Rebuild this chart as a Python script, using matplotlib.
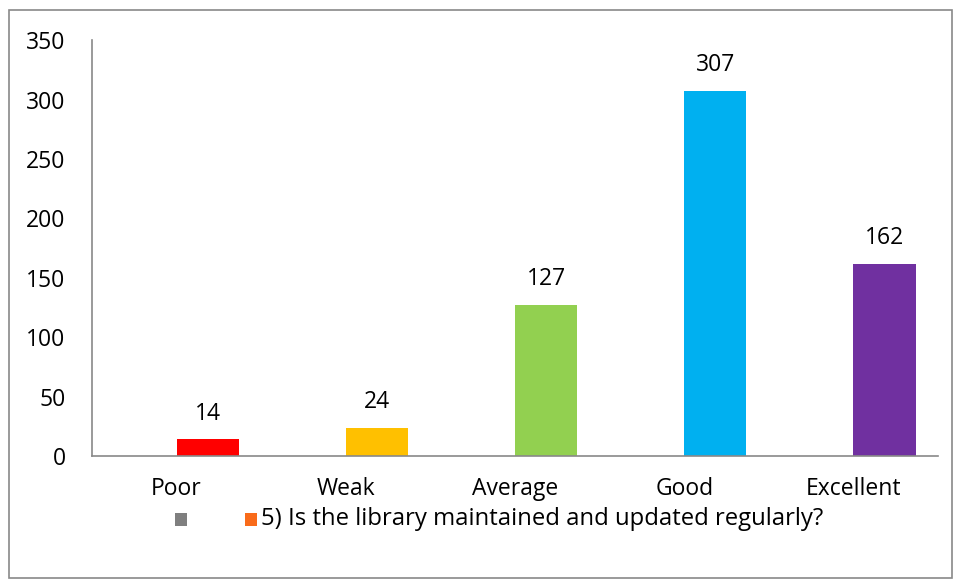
import matplotlib.pyplot as plt
from matplotlib.patches import Rectangle

plt.rcParams['font.family'] = ['Open Sans', 'DejaVu Sans']

categories = ["Poor", "Weak", "Average", "Good", "Excellent"]
counts = [14, 24, 127, 307, 162]
colors = ["#FF0000", "#FFC000", "#92D050", "#00B0F0", "#7030A0"]
legend_label = "5) Is the library maintained and updated regularly?"

fig = plt.figure(figsize=(9.56, 5.81), dpi=100)
ax = fig.add_axes([0.0962, 0.215, 0.885, 0.716])

x = range(len(categories))
# bar sits in the right half of each category (second slot of a 2-series cluster)
bars = ax.bar(x, counts, width=0.367, color=colors, align="edge")
for b, v in zip(bars, counts):
    ax.annotate(str(v), (b.get_x() + b.get_width() / 2, v), xytext=(0, 10),
                textcoords="offset points", ha="center", va="bottom", fontsize=16.5)

ax.set_xlim(-0.5, len(categories) - 0.5)
ax.set_ylim(0, 350)
ax.set_yticks(range(0, 351, 50))
ax.set_xticks(list(x))
ax.set_xticklabels(categories)
ax.tick_params(length=0, labelsize=16.5, pad=15)
ax.tick_params(axis="y", pad=19)
for s in ["top", "right"]:
    ax.spines[s].set_visible(False)
for s in ["left", "bottom"]:
    ax.spines[s].set_color("#898989")
    ax.spines[s].set_linewidth(1.2)

# outer chart border
fig.patches.append(Rectangle((0.009, 0.005), 0.987, 0.978, transform=fig.transFigure,
                             fill=False, edgecolor="#898989", linewidth=1.2))

# legend: grey empty marker and orange series marker
fig.patches.append(Rectangle((0.183, 0.094), 0.0125, 0.023, transform=fig.transFigure,
                             facecolor="#7F7F7F", edgecolor="none"))
fig.patches.append(Rectangle((0.256, 0.094), 0.0125, 0.023, transform=fig.transFigure,
                             facecolor="#F96B1A", edgecolor="none"))
fig.text(0.2725, 0.106, legend_label, fontsize=17.2, va="center", ha="left")

fig.savefig("out.png", dpi=100)
